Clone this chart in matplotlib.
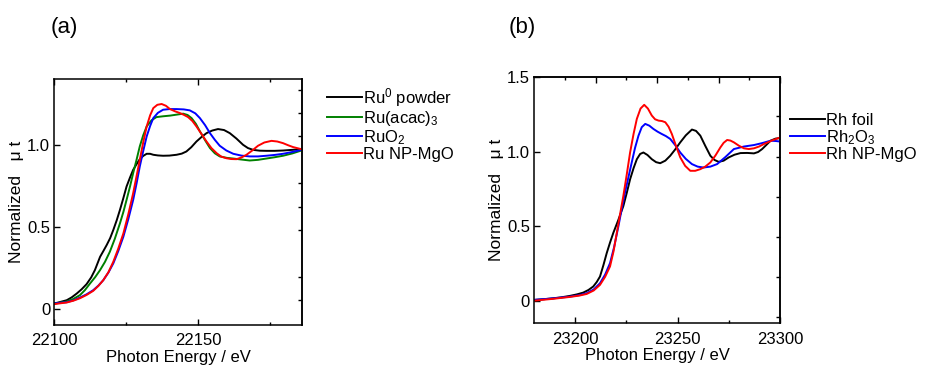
import numpy as np
import matplotlib
matplotlib.use('Agg')
import matplotlib.pyplot as plt

plt.rcParams['font.family'] = ['Liberation Sans', 'DejaVu Sans']
plt.rcParams['mathtext.default'] = 'regular'

# ---- (a) Ru K-edge ----
ru_foil_x = [22100, 22102, 22104.3, 22106, 22107.8, 22109.5, 22111.2, 22112.8, 22114.1, 22115.9,
             22117, 22118.2, 22119.4, 22120.5, 22121.7, 22122.8, 22124, 22125.1, 22126.3, 22127.4,
             22128.6, 22129.7, 22130.9, 22132.1, 22133.3, 22134.4, 22136, 22137.8, 22140, 22142.5,
             22144.3, 22145.9, 22147.6, 22149.4, 22151.2, 22152.9, 22154.9, 22156.9, 22159, 22161.0,
             22163.3, 22165.6, 22167.3, 22169.1, 22171.4, 22173.7, 22176.6, 22179.5, 22182.7, 22185.9]
ru_foil_y = [0.031, 0.040, 0.051, 0.068, 0.092, 0.118, 0.149, 0.190, 0.235, 0.316,
             0.350, 0.388, 0.430, 0.480, 0.540, 0.602, 0.675, 0.745, 0.800, 0.847,
             0.882, 0.912, 0.932, 0.945, 0.945, 0.939, 0.935, 0.933, 0.934, 0.939,
             0.946, 0.959, 0.985, 1.020, 1.048, 1.071, 1.087, 1.096, 1.090, 1.071,
             1.038, 1.000, 0.980, 0.969, 0.964, 0.963, 0.963, 0.965, 0.969, 0.973]

ru_acac_x = [22100, 22102, 22104.3, 22106.5, 22108.9, 22110.6, 22112.4, 22114.2, 22115.9, 22117.6,
             22119.3, 22121, 22122.8, 22124, 22125.1, 22126.3, 22127.4, 22128.6, 22129.7, 22130.9,
             22132.1, 22133.8, 22135.5, 22137.8, 22140.2, 22142.5, 22144.8, 22146.3, 22147.7, 22149.2,
             22150.6, 22152.4, 22154.1, 22155.8, 22157.5, 22160, 22162.2, 22165, 22167.9, 22170.8,
             22173.7, 22176.6, 22179.5, 22182.7, 22185.9]
ru_acac_y = [0.031, 0.036, 0.043, 0.058, 0.082, 0.112, 0.153, 0.192, 0.235, 0.285,
             0.347, 0.425, 0.520, 0.590, 0.663, 0.745, 0.827, 0.910, 0.990, 1.058,
             1.112, 1.150, 1.169, 1.174, 1.178, 1.184, 1.190, 1.182, 1.163, 1.128,
             1.082, 1.028, 0.980, 0.948, 0.929, 0.920, 0.916, 0.910, 0.904, 0.908,
             0.916, 0.924, 0.933, 0.947, 0.965]

ruo2_x = [22100, 22102, 22104.3, 22106.6, 22108.9, 22111.2, 22113.5, 22115.3, 22117.0, 22118.8,
          22120.5, 22122.2, 22124.0, 22125.7, 22127.4, 22128.6, 22129.7, 22130.9, 22132.1, 22133.3,
          22134.4, 22136, 22137.8, 22140, 22142.5, 22145, 22147.1, 22149, 22150.6, 22152.4,
          22154.1, 22155.8, 22157.5, 22159.8, 22162.2, 22165, 22167.9, 22170.8, 22173.7, 22176.6,
          22179.5, 22182.7, 22185.9]
ruo2_y = [0.031, 0.035, 0.039, 0.050, 0.067, 0.087, 0.112, 0.140, 0.173, 0.220,
          0.276, 0.350, 0.439, 0.545, 0.663, 0.765, 0.867, 0.962, 1.051, 1.115,
          1.163, 1.195, 1.214, 1.218, 1.218, 1.216, 1.210, 1.192, 1.163, 1.120,
          1.071, 1.030, 0.994, 0.965, 0.945, 0.934, 0.929, 0.929, 0.933, 0.938,
          0.945, 0.956, 0.969]

ru_np_x = [22100, 22102, 22104.3, 22106.6, 22108.9, 22111.2, 22113.5, 22115.3, 22117.0, 22118.8,
           22120.5, 22122.2, 22124.0, 22125.7, 22127.4, 22128.6, 22129.7, 22130.9, 22132.1, 22133.3,
           22134.4, 22135.8, 22137.3, 22138.8, 22140.2, 22142, 22143.6, 22145, 22146.5, 22148,
           22149.4, 22151.2, 22152.9, 22154.6, 22156.4, 22158, 22159.8, 22161.5, 22163.3, 22165,
           22166.8, 22168.8, 22170.8, 22173, 22175.5, 22177.5, 22179.5, 22181.3, 22183.0, 22185.9]
ru_np_y = [0.027, 0.032, 0.037, 0.048, 0.063, 0.083, 0.108, 0.138, 0.173, 0.222,
           0.286, 0.365, 0.459, 0.575, 0.704, 0.810, 0.908, 1.015, 1.112, 1.180,
           1.224, 1.244, 1.249, 1.238, 1.218, 1.204, 1.194, 1.183, 1.169, 1.145,
           1.112, 1.065, 1.020, 0.980, 0.949, 0.928, 0.918, 0.913, 0.912, 0.922,
           0.939, 0.965, 0.994, 1.014, 1.024, 1.020, 1.010, 0.997, 0.986, 0.973]

# ---- (b) Rh K-edge ----
rh_foil_x = [23179.9, 23185, 23189.2, 23193, 23197.4, 23200.8, 23203.9, 23206.5, 23208.8, 23210.5,
             23212.1, 23213.8, 23215.4, 23217, 23218.6, 23221, 23223.5, 23225.2, 23226.8, 23228.5,
             23230.1, 23231.7, 23233.3, 23235.3, 23237.4, 23239.5, 23241.5, 23244, 23246.4, 23248.8,
             23251.3, 23254, 23257.0, 23259, 23261.1, 23263.5, 23266.0, 23268, 23270.1, 23272.5,
             23275.0, 23277.8, 23280.7, 23284, 23287.3, 23289.3, 23291.3, 23293.3, 23295.4, 23297.8,
             23300.3]
rh_foil_y = [0.005, 0.010, 0.016, 0.022, 0.032, 0.042, 0.054, 0.072, 0.095, 0.125,
             0.162, 0.240, 0.320, 0.390, 0.455, 0.540, 0.635, 0.725, 0.815, 0.890,
             0.950, 0.985, 0.995, 0.978, 0.950, 0.930, 0.923, 0.940, 0.973, 1.015,
             1.063, 1.110, 1.149, 1.140, 1.108, 1.040, 0.973, 0.945, 0.932, 0.940,
             0.962, 0.980, 0.991, 0.992, 0.989, 0.998, 1.018, 1.045, 1.074, 1.088,
             1.092]

rh2o3_x = [23179.9, 23189, 23197.4, 23202, 23205.6, 23209, 23212.1, 23214.6, 23217.0, 23219,
           23221.1, 23222.7, 23224.3, 23226, 23227.6, 23229.2, 23230.9, 23232.5, 23234.2, 23236.2,
           23238.2, 23240.2, 23242.3, 23244.3, 23246.4, 23248.8, 23251.3, 23254, 23257.0, 23259.8,
           23262.7, 23266, 23269.3, 23273.4, 23277.5, 23282.4, 23287.3, 23291.3, 23295.4, 23298,
           23300.3]
rh2o3_y = [0.005, 0.015, 0.027, 0.037, 0.050, 0.075, 0.117, 0.175, 0.252, 0.360,
           0.500, 0.615, 0.725, 0.830, 0.928, 1.025, 1.108, 1.165, 1.187, 1.175,
           1.153, 1.135, 1.119, 1.105, 1.086, 1.045, 0.995, 0.952, 0.917, 0.900,
           0.894, 0.900, 0.917, 0.965, 1.018, 1.035, 1.045, 1.058, 1.074, 1.072,
           1.068]

rh_np_x = [23179.9, 23189, 23197.4, 23202, 23205.6, 23209, 23212.1, 23214.6, 23217.0, 23218.7,
           23220.3, 23221.9, 23223.5, 23225.2, 23226.8, 23228.5, 23230.1, 23231.9, 23233.7, 23235.5,
           23237.4, 23239, 23240.7, 23242.4, 23244.0, 23245.6, 23247.2, 23249.2, 23251.3, 23253.7,
           23256.2, 23258.6, 23261.1, 23263.5, 23266.0, 23268.5, 23270.9, 23272.5, 23274.2, 23275.8,
           23277.5, 23280, 23282.4, 23284.8, 23287.3, 23289.8, 23292.2, 23296, 23300.3]
rh_np_y = [0.000, 0.012, 0.025, 0.034, 0.045, 0.068, 0.106, 0.160, 0.230, 0.330,
           0.455, 0.580, 0.703, 0.850, 0.995, 1.120, 1.221, 1.290, 1.315, 1.290,
           1.243, 1.218, 1.209, 1.206, 1.198, 1.168, 1.119, 1.040, 0.962, 0.905,
           0.872, 0.872, 0.883, 0.900, 0.928, 0.975, 1.029, 1.060, 1.079, 1.075,
           1.063, 1.040, 1.023, 1.018, 1.023, 1.035, 1.052, 1.075, 1.097]

labels_a = [r'Ru$^0$ powder', r'Ru(acac)$_3$', r'RuO$_2$', 'Ru NP-MgO']
labels_b = ['Rh foil', r'Rh$_2$O$_3$', 'Rh NP-MgO']
colors = ['black', 'green', 'blue', 'red']

fig = plt.figure(figsize=(9.37, 3.68), dpi=100)
ax_a = fig.add_axes([0.058, 0.117, 0.264, 0.6676])
ax_b = fig.add_axes([0.5702, 0.1215, 0.2622, 0.6685])

lw = 1.4
ax_a.plot(ru_foil_x, ru_foil_y, color=colors[0], lw=lw, label=labels_a[0])
ax_a.plot(ru_acac_x, ru_acac_y, color=colors[1], lw=lw, label=labels_a[1])
ax_a.plot(ruo2_x, ruo2_y, color=colors[2], lw=lw, label=labels_a[2])
ax_a.plot(ru_np_x, ru_np_y, color=colors[3], lw=lw, label=labels_a[3])

ax_b.plot(rh_foil_x, rh_foil_y, color=colors[0], lw=lw, label=labels_b[0])
ax_b.plot(rh2o3_x, rh2o3_y, color=colors[2], lw=lw, label=labels_b[1])
ax_b.plot(rh_np_x, rh_np_y, color=colors[3], lw=lw, label=labels_b[2])

ax_a.set_xlim(22100, 22186)
ax_a.set_ylim(-0.1, 1.4)
ax_b.set_xlim(23180, 23300)
ax_b.set_ylim(-0.152, 1.5)

ax_a.set_xticks([22100, 22150])
ax_a.set_xticks([22125, 22175], minor=True)
ax_a.set_yticks([0, 0.5, 1.0])
ax_a.set_yticklabels(['0', '0.5', '1.0'])
ax_b.set_xticks([23200, 23250, 23300])
ax_b.set_xticks([23225, 23275], minor=True)
ax_b.set_yticks([0, 0.5, 1.0, 1.5])
ax_b.set_yticklabels(['0', '0.5', '1.0', '1.5'])

for ax in (ax_a, ax_b):
    for s in ax.spines.values():
        s.set_linewidth(1.1)
    ax.tick_params(axis='y', which='major', direction='in', length=4, width=1, labelsize=12, pad=3)
    ax.tick_params(axis='x', which='major', direction='in', length=4, width=1, labelsize=12, pad=6)
    ax.tick_params(axis='x', which='minor', direction='in', length=2.5, width=1)
    ax.set_xlabel('Photon Energy / eV', fontsize=12, labelpad=1)
    ax.set_ylabel('Normalized   μ t', fontsize=12.5, labelpad=2)

# top / right ticks (inward, no labels)
ax_a.tick_params(axis='x', which='both', top=True)
ra = ax_a.secondary_yaxis('right')
ra.set_yticks([0.051, 0.194, 0.480, 0.622, 0.765, 1.051, 1.194, 1.337])
ra.tick_params(direction='in', length=3, width=1, labelright=False)
ra.spines['right'].set_linewidth(1.1)

tb = ax_b.secondary_xaxis('top')
tb.set_xticks([23210, 23240, 23270, 23300])
tb.set_xticks([23195, 23225, 23255, 23285], minor=True)
tb.tick_params(which='major', direction='in', length=4, width=1, labeltop=False)
tb.tick_params(which='minor', direction='in', length=2.5, width=1)
tb.spines['top'].set_linewidth(1.1)
rb = ax_b.secondary_yaxis('right')
rb.set_yticks([-0.113, 0.158, 0.428, 0.698, 0.968, 1.239])
rb.tick_params(direction='in', length=3, width=1, labelright=False)
rb.spines['right'].set_linewidth(1.1)

fig.text(51 / 937, 1 - 28 / 368, '(a)', fontsize=16, va='center', ha='left')
fig.text(509 / 937, 1 - 28 / 368, '(b)', fontsize=16, va='center', ha='left')

leg_kw = dict(frameon=False, fontsize=12, handlelength=2.1, handletextpad=0.05,
              labelspacing=0.0, borderpad=0, borderaxespad=0, loc='upper left')
ax_a.legend(bbox_to_anchor=(327 / 937, 1 - 86 / 368), bbox_transform=fig.transFigure, **leg_kw)
ax_b.legend(bbox_to_anchor=(790 / 937, 1 - 113 / 368), bbox_transform=fig.transFigure, **leg_kw)

fig.savefig('out.png', dpi=100)
